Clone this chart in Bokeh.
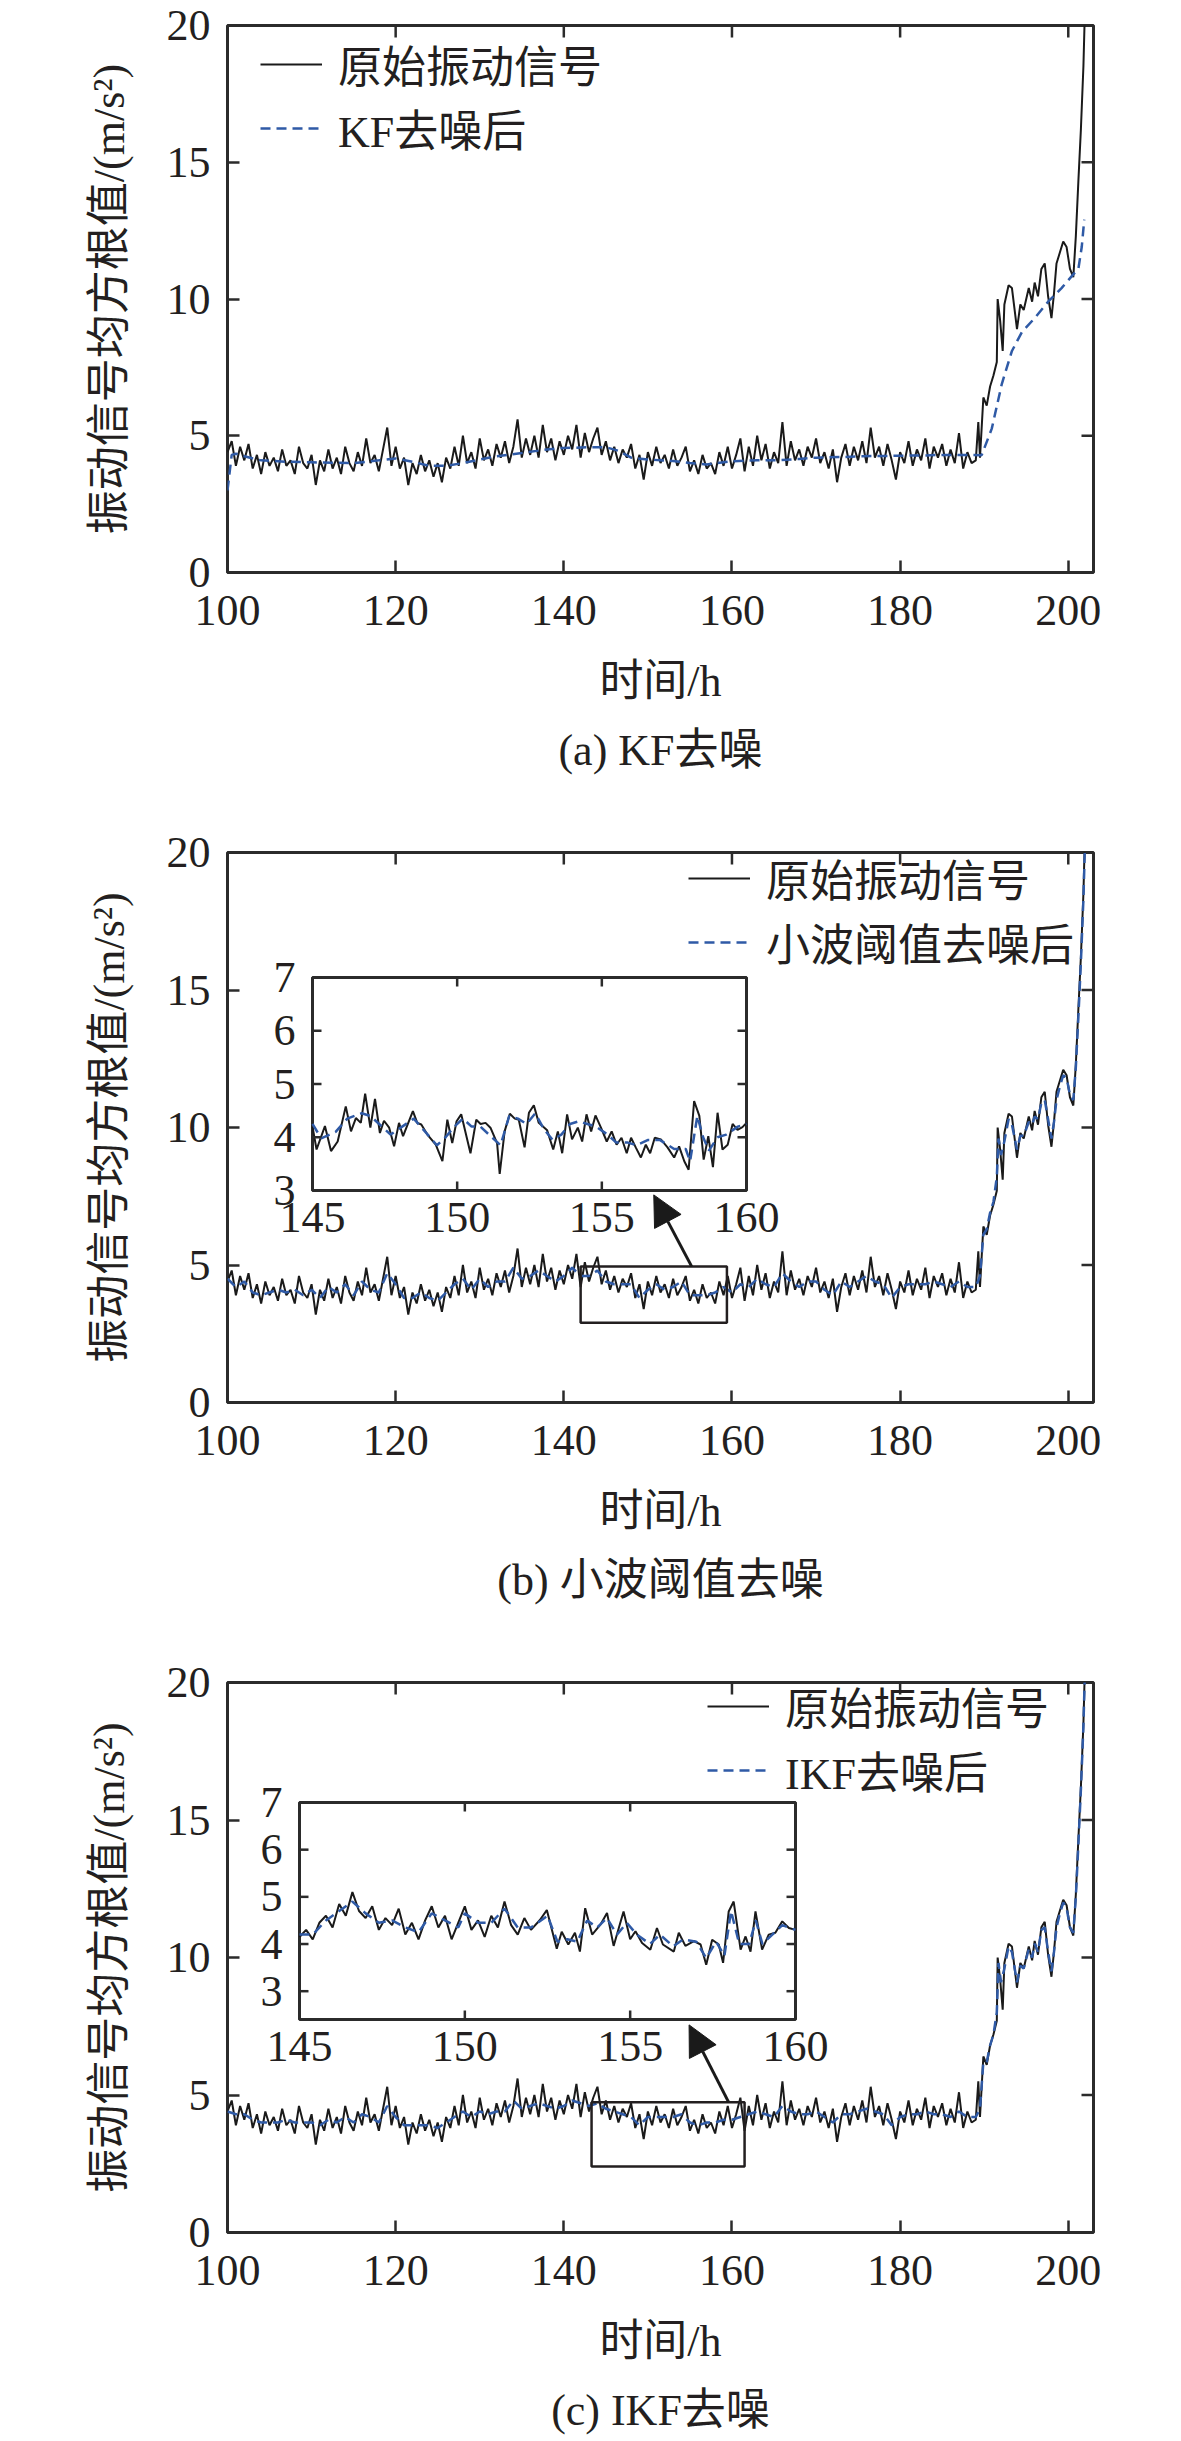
import numpy as np
from bokeh.plotting import figure
from bokeh.models import (Range1d, FixedTicker, Legend, LegendItem,
                          Title, Arrow, NormalHead)
from bokeh.layouts import column
from bokeh.embed import file_html
from bokeh.resources import INLINE

# ---------------- data ----------------
x_ticks = [100, 120, 140, 160, 180, 200]
y_ticks = [0, 5, 10, 15, 20]
inset_x_ticks = [145, 150, 155, 160]
inset_y_ticks = [3, 4, 5, 6, 7]

# raw vibration RMS, 100 h .. 189 h every 0.5 h
raw_base_t = np.round(np.arange(100.0, 189.01, 0.5), 1).tolist()
raw_base_v = [
    4.4, 4.8, 3.9, 4.6, 4.1, 4.7, 3.8, 4.3, 3.6, 4.4,
    3.9, 4.2, 3.7, 4.5, 3.9, 4.1, 3.6, 4.6, 4.0, 3.8,
    4.3, 3.2, 4.1, 3.7, 4.5, 3.8, 4.2, 3.6, 4.6, 4.0,
    3.7, 4.4, 3.9, 4.9, 4.0, 4.3, 3.7, 4.5, 5.3, 3.9,
    4.6, 3.8, 4.2, 3.2, 4.0, 3.6, 4.3, 3.7, 4.1, 3.5,
    4.0, 3.3, 4.2, 3.8, 4.6, 3.9, 5.0, 4.0, 4.4, 3.8,
    4.9, 4.1, 4.5, 3.9, 4.7, 4.2, 4.8, 4.0, 4.6, 5.6,
    4.2, 4.9, 4.3, 5.0, 4.2, 5.4, 4.4, 4.9, 4.1, 4.8,
    4.3, 5.0, 4.5, 5.4, 4.2, 5.1, 4.4, 4.9, 5.3, 4.3,
    4.8, 4.1, 4.6, 4.0, 4.5, 4.2, 4.7, 3.8, 4.3, 3.4,
    4.4, 3.9, 4.6, 4.0, 4.3, 3.8, 4.5, 3.9, 4.2, 4.6,
    3.7, 4.1, 3.6, 4.3, 3.8, 4.0, 3.6, 4.4, 3.9, 4.6,
    3.8, 4.3, 4.9, 3.7, 4.6, 3.9, 5.0, 4.1, 4.7, 3.8,
    4.4, 4.0, 5.5, 3.9, 4.8, 4.1, 4.5, 3.9, 4.6, 4.2,
    4.9, 4.0, 4.4, 3.8, 4.5, 3.3, 4.2, 4.7, 3.9, 4.6,
    4.1, 4.8, 4.0, 5.3, 4.2, 4.6, 3.9, 4.7, 4.1, 3.4,
    4.4, 4.0, 4.8, 3.9, 4.5, 4.1, 4.9, 3.8, 4.6, 4.2,
    4.7, 3.9, 4.5, 4.0, 5.1, 3.8, 4.4, 4.0, 4.1,
]
raw_tail_t = [189.3, 189.5, 189.9, 190.3, 190.7, 191.1, 191.5, 191.6, 191.9, 192.2,
              192.4, 192.9, 193.3, 193.9, 194.3, 194.7, 195.3, 195.7, 196.0, 196.4,
              196.8, 197.2, 197.6, 198.0, 198.3, 198.6, 199.0, 199.4, 199.8, 200.2,
              200.6, 200.9, 201.2, 201.5, 201.8, 202.1]
raw_tail_v = [5.5, 4.2, 6.4, 6.1, 6.8, 7.2, 7.7, 10.0, 9.2, 8.1,
              9.8, 10.5, 10.4, 8.9, 9.8, 9.6, 10.4, 9.9, 10.6, 10.1,
              11.1, 11.3, 10.1, 9.3, 10.2, 11.3, 11.7, 12.1, 11.9, 11.1,
              10.8, 12.3, 14.3, 16.2, 18.5, 22.0]
raw_t = raw_base_t + raw_tail_t
raw_v = raw_base_v + raw_tail_v

# KF filtered
kf_t = [100.0, 100.5, 101, 102, 104, 107, 110, 115, 118, 120, 122, 124, 126, 128, 130,
        132, 135, 138, 140, 143, 145, 146.5, 148, 150, 153, 155, 157, 160, 163, 165,
        168, 170, 173, 175, 178, 180, 183, 185, 188, 189.7, 190.9, 192.1, 193.3, 194.5,
        196.0, 197.6, 199.2, 200.6, 201.2, 201.6, 201.9]
kf_v = [3.0, 4.3, 4.34, 4.25, 4.1, 4.05, 4.03, 4.0, 4.1, 4.17, 4.05, 3.9, 3.9, 4.0, 4.13,
        4.25, 4.37, 4.5, 4.55, 4.58, 4.58, 4.45, 4.2, 4.13, 4.08, 4.0, 3.95, 4.07, 4.1, 4.1,
        4.15, 4.2, 4.22, 4.25, 4.26, 4.27, 4.28, 4.3, 4.3, 4.29, 5.26, 6.9, 8.1, 8.8,
        9.3, 9.9, 10.4, 10.9, 11.1, 11.9, 12.9]

# wavelet threshold filtered (hourly) + tail
wt_base_t = list(range(100, 190))
wt_base_v = [
    4.5, 4.2, 4.4, 4.0, 3.9, 4.0, 4.1, 4.0, 4.1, 3.9,
    4.1, 3.8, 4.2, 4.0, 4.3, 3.9, 4.4, 4.1, 4.0, 4.7,
    4.3, 3.8, 3.8, 4.0, 3.8, 3.7, 4.0, 4.3, 4.5, 4.1,
    4.5, 4.2, 4.4, 4.4, 4.9, 4.5, 4.6, 4.8, 4.6, 4.4,
    4.6, 4.9, 4.6, 4.6, 4.8, 4.4, 4.3, 4.3, 4.3, 3.8,
    4.1, 4.3, 4.1, 4.2, 4.4, 3.9, 3.9, 3.9, 4.0, 4.2,
    4.0, 4.3, 4.2, 4.5, 4.3, 4.2, 4.7, 4.4, 4.2, 4.4,
    4.4, 4.1, 3.9, 4.4, 4.2, 4.4, 4.6, 4.4, 4.3, 3.8,
    4.2, 4.3, 4.3, 4.3, 4.4, 4.3, 4.2, 4.4, 4.2, 4.2,
]
wt_tail_t = [189.5, 189.9, 190.3, 190.7, 191.1, 191.5, 191.7, 192.0, 192.4, 192.9,
             193.3, 193.9, 194.3, 194.7, 195.3, 195.7, 196.0, 196.4, 196.8, 197.2,
             197.6, 198.0, 198.3, 198.6, 199.0, 199.4, 199.8, 200.2, 200.6, 200.9,
             201.2, 201.5, 201.8, 202.1]
wt_tail_v = [4.6, 6.1, 6.3, 6.9, 7.3, 8.2, 9.6, 9.0, 9.5, 10.3,
             10.1, 9.2, 9.7, 9.7, 10.2, 10.1, 10.4, 10.3, 10.9, 11.0,
             10.3, 9.6, 10.2, 11.0, 11.5, 11.9, 11.8, 11.2, 11.0, 12.2,
             14.0, 16.0, 18.3, 21.5]
wt_t = wt_base_t + wt_tail_t
wt_v = wt_base_v + wt_tail_v

# IKF filtered (hourly) + tail
ikf_base_t = list(range(100, 190))
ikf_base_v = [
    4.4, 4.3, 4.3, 4.1, 4.0, 4.0, 4.0, 4.1, 4.0, 4.0,
    4.0, 3.9, 4.1, 4.0, 4.2, 4.0, 4.3, 4.2, 4.0, 4.6,
    4.2, 3.9, 3.9, 3.9, 3.9, 3.8, 4.0, 4.2, 4.4, 4.2,
    4.4, 4.3, 4.4, 4.4, 4.8, 4.5, 4.6, 4.7, 4.6, 4.5,
    4.6, 4.8, 4.7, 4.6, 4.7, 4.5, 4.4, 4.3, 4.2, 3.9,
    4.2, 4.2, 4.2, 4.2, 4.3, 4.0, 3.9, 4.0, 4.0, 4.1,
    4.1, 4.2, 4.3, 4.4, 4.3, 4.2, 4.6, 4.4, 4.3, 4.3,
    4.4, 4.2, 4.0, 4.3, 4.3, 4.4, 4.5, 4.4, 4.3, 3.9,
    4.2, 4.3, 4.3, 4.4, 4.3, 4.3, 4.2, 4.4, 4.2, 4.2,
]
ikf_tail_t = [189.5, 189.9, 190.3, 190.7, 191.1, 191.5, 191.7, 192.0, 192.4, 192.9,
              193.3, 193.9, 194.3, 194.7, 195.3, 195.7, 196.0, 196.4, 196.8, 197.2,
              197.6, 198.0, 198.3, 198.6, 199.0, 199.4, 199.8, 200.2, 200.6, 200.9,
              201.2, 201.5, 201.8, 202.1]
ikf_tail_v = [4.5, 6.2, 6.2, 6.8, 7.2, 8.0, 9.8, 9.1, 9.6, 10.4,
              10.2, 9.1, 9.7, 9.6, 10.3, 10.0, 10.5, 10.2, 11.0, 11.1,
              10.2, 9.5, 10.2, 11.1, 11.6, 12.0, 11.8, 11.1, 10.9, 12.2,
              14.1, 16.1, 18.4, 21.8]
ikf_t = ikf_base_t + ikf_tail_t
ikf_v = ikf_base_v + ikf_tail_v

# inset (b): 145-160 h detail
ib_raw_t = [145.0, 145.14, 145.43, 145.64, 145.87, 146.15, 146.33, 146.5, 146.67, 146.82,
            147.0, 147.16, 147.33, 147.47, 147.65, 147.82, 147.99, 148.13, 148.47, 148.62,
            148.76, 148.97, 149.26, 149.49, 149.66, 149.83, 149.98, 150.14, 150.46, 150.66,
            150.81, 150.98, 151.15, 151.38, 151.47, 151.64, 151.82, 151.99, 152.13, 152.33,
            152.48, 152.65, 152.82, 153.11, 153.32, 153.48, 153.63, 153.8, 153.97, 154.17,
            154.32, 154.47, 154.63, 154.78, 154.97, 155.17, 155.34, 155.51, 155.68, 155.86,
            156.01, 156.18, 156.35, 156.52, 156.67, 156.83, 157.04, 157.27, 157.5, 157.67,
            157.85, 158.0, 158.19, 158.37, 158.52, 158.68, 158.84, 159.0, 159.17, 159.35,
            159.52, 159.69, 159.86, 160.0]
ib_raw_v = [4.2, 3.77, 4.21, 3.74, 3.92, 4.58, 4.11, 4.36, 4.27, 4.82,
            4.18, 4.72, 4.08, 4.31, 4.18, 3.83, 4.27, 4.02, 4.49, 4.27,
            4.24, 4.05, 3.86, 3.55, 4.33, 3.89, 4.3, 4.43, 3.7, 4.33,
            4.25, 4.27, 4.18, 3.89, 3.31, 4.11, 4.44, 4.35, 4.33, 3.81,
            4.46, 4.6, 4.27, 4.13, 3.77, 4.11, 3.7, 4.43, 3.96, 4.18,
            3.92, 4.43, 4.11, 4.41, 4.18, 3.92, 4.11, 3.86, 3.99, 3.7,
            3.99, 3.8, 3.62, 3.86, 3.7, 3.99, 3.96, 3.81, 3.62, 3.83,
            3.55, 3.39, 4.68, 4.4, 3.58, 4.02, 3.44, 4.46, 3.77, 3.86,
            4.25, 4.14, 4.19, 4.27]
ib_f_t = [145.0, 145.3, 145.8, 146.2, 146.7, 147.0, 147.4, 147.7, 148.1, 148.5,
          148.9, 149.3, 149.6, 149.9, 150.2, 150.5, 150.8, 151.2, 151.5, 151.8,
          152.1, 152.4, 152.7, 153.0, 153.3, 153.6, 153.9, 154.2, 154.5, 154.8,
          155.2, 155.5, 155.9, 156.2, 156.6, 157.0, 157.5, 157.9, 158.05, 158.3,
          158.5, 158.7, 159.0, 159.3, 159.7, 160.0]
ib_f_v = [4.25, 3.98, 4.1, 4.35, 4.45, 4.4, 4.2, 4.05, 4.2, 4.35,
          4.1, 3.85, 4.0, 4.2, 4.35, 4.2, 4.2, 4.0, 3.85, 4.4,
          4.35, 4.25, 4.45, 4.15, 3.95, 4.05, 4.25, 4.3, 4.25, 4.2,
          4.05, 3.9, 3.9, 3.85, 3.95, 3.95, 3.78, 3.78, 3.55, 4.4,
          4.0, 3.75, 4.0, 4.05, 4.2, 4.25]

# inset (c): 145-160 h detail
ic_raw_t = [145.0, 145.2, 145.4, 145.6, 145.8, 146.0, 146.2, 146.4, 146.6, 146.8,
            147.0, 147.2, 147.4, 147.6, 147.8, 148.0, 148.2, 148.4, 148.6, 148.8,
            149.0, 149.2, 149.4, 149.6, 149.8, 150.0, 150.2, 150.4, 150.6, 150.8,
            151.0, 151.2, 151.4, 151.6, 151.8, 152.0, 152.27, 152.48, 152.78, 152.93,
            153.13, 153.33, 153.48, 153.64, 153.85, 154.1, 154.3, 154.5, 154.8, 155.0,
            155.16, 155.36, 155.61, 155.81, 155.99, 156.32, 156.47, 156.67, 156.93, 157.13,
            157.3, 157.48, 157.68, 157.81, 157.98, 158.13, 158.34, 158.49, 158.64, 158.79,
            158.99, 159.19, 159.39, 159.6, 159.8, 160.0]
ic_raw_v = [4.15, 4.3, 4.1, 4.45, 4.6, 4.35, 4.85, 4.6, 5.1, 4.7,
            4.55, 4.8, 4.3, 4.55, 4.4, 4.75, 4.2, 4.45, 4.1, 4.5,
            4.8, 4.35, 4.6, 4.1, 4.45, 4.8, 4.3, 4.5, 4.15, 4.6,
            4.35, 4.9, 4.4, 4.2, 4.55, 4.3, 4.51, 4.72, 3.9, 4.26,
            3.99, 4.24, 3.84, 4.76, 4.2, 4.41, 4.66, 3.96, 4.69, 4.1,
            4.27, 4.02, 3.88, 4.34, 3.99, 3.84, 4.24, 3.96, 4.06, 3.99,
            3.56, 4.09, 3.99, 3.6, 4.69, 4.9, 3.88, 4.16, 3.84, 4.69,
            3.88, 4.2, 4.24, 4.48, 4.34, 4.3]
ic_f_t = [145.0, 145.4, 145.8, 146.2, 146.6, 147.0, 147.4, 147.8, 148.2, 148.6,
          149.0, 149.4, 149.8, 150.0, 150.4, 150.8, 151.2, 151.6, 152.0, 152.3,
          152.5, 152.8, 153.1, 153.4, 153.7, 154.0, 154.3, 154.6, 154.9, 155.2,
          155.6, 155.9, 156.3, 156.6, 157.0, 157.3, 157.6, 157.85, 158.05, 158.3,
          158.6, 158.8, 159.0, 159.3, 159.6, 160.0]
ic_f_v = [4.2, 4.2, 4.5, 4.7, 4.9, 4.65, 4.45, 4.5, 4.35, 4.25,
          4.65, 4.5, 4.35, 4.65, 4.45, 4.45, 4.75, 4.35, 4.35, 4.5,
          4.6, 4.05, 4.1, 4.05, 4.5, 4.35, 4.55, 4.2, 4.45, 4.2,
          4.0, 4.2, 3.95, 4.1, 4.05, 3.7, 4.05, 3.75, 4.7, 4.0,
          4.0, 4.5, 4.0, 4.2, 4.4, 4.3]

# zoom boxes and arrows (data units of the main axes)
box_b_x = [142.0, 159.4]
box_b_y = [2.9, 4.95]
arrow_b = [155.2, 4.95, 150.7, 7.55]
box_c_x = [143.3, 161.5]
box_c_y = [2.4, 4.74]
arrow_c = [159.6, 4.74, 154.9, 7.55]

# ---------------- style / layout ----------------
FONT = "'Liberation Serif', 'Noto Sans CJK SC'"
TXT = "#231f20"
AXC = "#2b2b2b"
RAWC = "#1a1a1a"
BLUE = "#2f5aa6"
X0, X1 = 100, 203
Y0, Y1 = 0, 20
FRAME_W = 866


def style_axis(ax, ticks, standoff):
    ax.ticker = FixedTicker(ticks=ticks)
    ax.minor_tick_line_color = None
    ax.major_tick_in = 12
    ax.major_tick_out = 0
    ax.major_tick_line_width = 2.5
    ax.major_tick_line_color = AXC
    ax.axis_line_color = None
    ax.major_label_text_font = FONT
    ax.major_label_text_font_size = "44px"
    ax.major_label_text_color = TXT
    ax.major_label_standoff = standoff
    ax.axis_label_text_font = FONT
    ax.axis_label_text_font_size = "44px"
    ax.axis_label_text_font_style = "normal"
    ax.axis_label_text_color = TXT


def add_inset(p, name, t, v, ft, fv, iy0, box_px, frame_h):
    # box_px: (left, top, width, height) of the inset frame inside the main frame, px
    left, top, w, h = box_px
    xppu = w / 15.0
    xs = 145 - left / xppu
    p.extra_x_ranges[name + "x"] = Range1d(xs, xs + FRAME_W / xppu)
    yppu = h / (7 - iy0)
    ye = 7 + top / yppu
    p.extra_y_ranges[name + "y"] = Range1d(ye - frame_h / yppu, ye)
    kw = dict(x_range_name=name + "x", y_range_name=name + "y")
    p.quad(left=[145], right=[160], bottom=[iy0], top=[7],
           fill_color="white", line_color=AXC, line_width=3, **kw)
    p.line(t, v, line_color=RAWC, line_width=2, **kw)
    p.line(ft, fv, line_color=BLUE, line_width=2.5, line_dash="10 6", **kw)
    yt = [y for y in inset_y_ticks if y >= iy0]
    nx, ny = len(inset_x_ticks), len(yt)
    tick = dict(length=9, length_units="screen", line_color=AXC, line_width=2.5, **kw)
    p.ray(x=inset_x_ticks, y=[iy0] * nx, angle=np.pi / 2, **tick)
    p.ray(x=inset_x_ticks, y=[7] * nx, angle=-np.pi / 2, **tick)
    p.ray(x=[145] * ny, y=yt, angle=0, **tick)
    p.ray(x=[160] * ny, y=yt, angle=np.pi, **tick)
    p.text(x=inset_x_ticks, y=[iy0] * nx, text=[str(s) for s in inset_x_ticks],
           y_offset=12, text_align="center", text_baseline="top",
           text_font=FONT, text_font_size="44px", text_color=TXT, **kw)
    p.text(x=[145] * ny, y=yt, text=[str(s) for s in yt],
           x_offset=-17, text_align="right", text_baseline="middle",
           text_font=FONT, text_font_size="44px", text_color=TXT, **kw)


def make_main(f_t, f_v, f_label, caption, height, b_top, frame_h, legend_loc,
              box_x=None, box_y=None, arrow=None, inset=None):
    p = figure(width=1181, height=height, frame_width=FRAME_W, frame_height=frame_h,
               x_range=Range1d(X0, X1), y_range=Range1d(Y0, Y1),
               min_border_left=227, min_border_right=88, min_border_top=b_top,
               min_border_bottom=height - b_top - frame_h,
               output_backend="svg", toolbar_location=None)
    p.xgrid.visible = False
    p.ygrid.visible = False
    p.outline_line_color = AXC
    p.outline_line_width = 3
    p.background_fill_color = "white"
    p.border_fill_color = "white"

    style_axis(p.xaxis[0], x_ticks, 23)
    style_axis(p.yaxis[0], y_ticks, 17)
    p.xaxis.axis_label = "时间/h"
    p.yaxis.axis_label = "振动信号均方根值/(m/s²)"
    p.xaxis.axis_label_standoff = 29
    p.yaxis.axis_label_standoff = 30

    # mirrored ticks on top and right edges
    p.ray(x=x_ticks, y=[Y1] * len(x_ticks), angle=-np.pi / 2, length=12,
          length_units="screen", line_color=AXC, line_width=2.5)
    p.ray(x=[X1] * len(y_ticks), y=y_ticks, angle=np.pi, length=12,
          length_units="screen", line_color=AXC, line_width=2.5)

    r1 = p.line(raw_t, raw_v, line_color=RAWC, line_width=2)
    r2 = p.line(f_t, f_v, line_color=BLUE, line_width=2.5, line_dash="10 6")

    if box_x is not None:
        p.quad(left=[box_x[0]], right=[box_x[1]], bottom=[box_y[0]], top=[box_y[1]],
               fill_alpha=0, line_color=TXT, line_width=2.5)
        p.add_layout(Arrow(end=NormalHead(size=30, fill_color=RAWC, line_color=RAWC),
                           x_start=arrow[0], y_start=arrow[1],
                           x_end=arrow[2], y_end=arrow[3],
                           line_color=RAWC, line_width=3))
    if inset is not None:
        add_inset(p, *inset, frame_h)

    legend = Legend(items=[LegendItem(label="原始振动信号", renderers=[r1]),
                           LegendItem(label=f_label, renderers=[r2])],
                    location=legend_loc,
                    background_fill_alpha=0, border_line_alpha=0,
                    padding=0, margin=0, spacing=0,
                    glyph_width=62, glyph_height=56, label_height=56,
                    label_standoff=16,
                    label_text_font=FONT, label_text_font_size="44px",
                    label_text_color=TXT)
    p.add_layout(legend)

    p.add_layout(Title(text=caption, align="center", text_font=FONT,
                       text_font_size="44px", text_font_style="normal",
                       text_color=TXT, standoff=30), "below")
    return p


pa = make_main(kf_t, kf_v, "KF去噪后", "(a) KF去噪", 826, 25, 547, (33, 412))
pb = make_main(wt_t, wt_v, "小波阈值去噪后", "(b) 小波阈值去噪", 830, 26, 550, (461, 428),
               box_b_x, box_b_y, arrow_b,
               inset=("ib", ib_raw_t, ib_raw_v, ib_f_t, ib_f_v, 3, (85, 125, 434, 213)))
pc = make_main(ikf_t, ikf_v, "IKF去噪后", "(c) IKF去噪", 790, 26, 550, (480, 430),
               box_c_x, box_c_y, arrow_c,
               inset=("ic", ic_raw_t, ic_raw_v, ic_f_t, ic_f_v, 2.4, (72, 120, 496, 217)))

layout = column(pa, pb, pc, spacing=0)

open("out.html", "w").write(file_html(layout, INLINE))
